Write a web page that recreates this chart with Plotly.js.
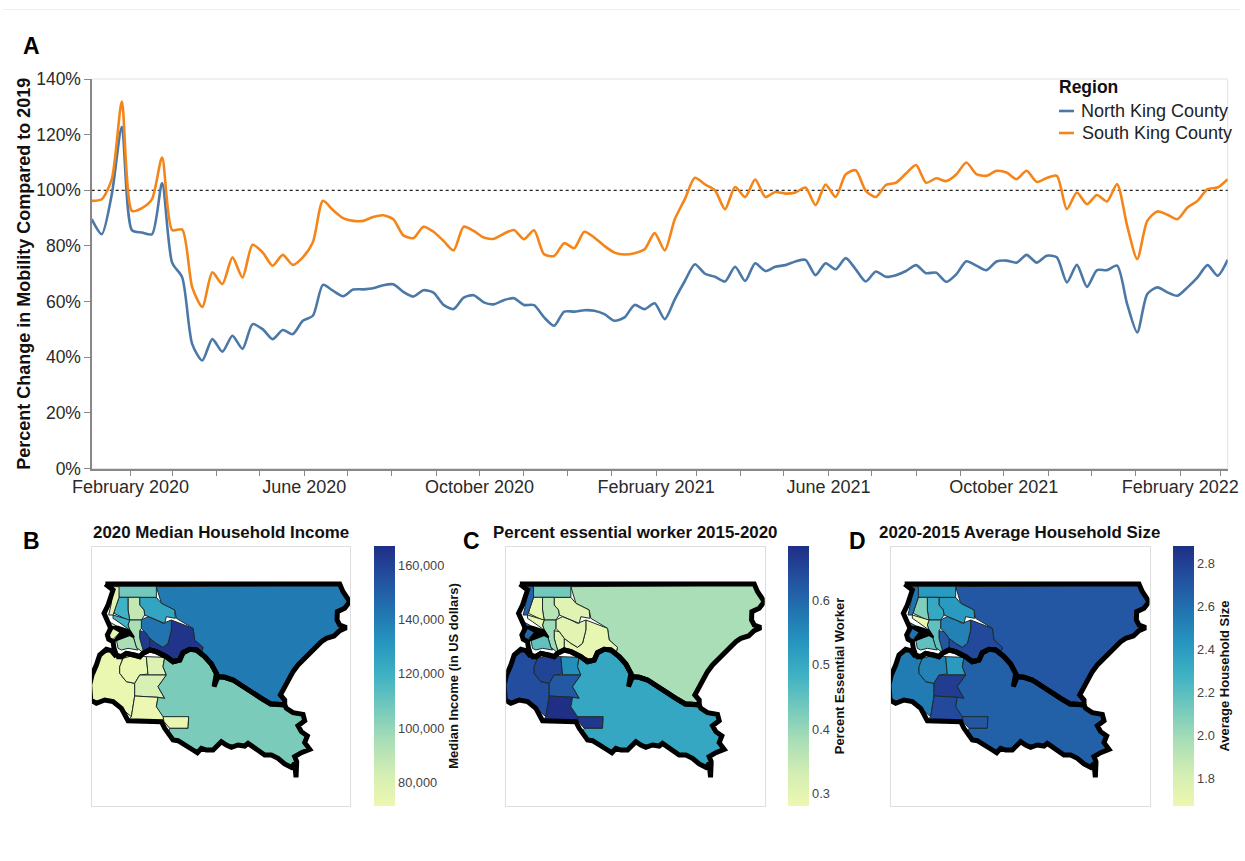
<!DOCTYPE html>
<html>
<head>
<meta charset="utf-8">
<script src="https://cdn.plot.ly/plotly-3.0.1.min.js"></script>
<style>html,body{margin:0;padding:0;background:#fff}</style>
</head>
<body>
<div id="chart" style="width:1245px;height:861px"></div>
<script>
// ---- Panel A data: weekly mobility, percent of 2019 ----
const firstWeek = '2020-01-05';
const northKing = [89.6,84.2,98.6,122.8,85.7,84.8,84.2,102.6,74,68.7,
  44.7,38.8,46.5,42,47.7,43,51.9,50.1,46.5,49.8,
  48.3,53.1,54.9,66,63.9,61.9,64.3,64.4,
  64.8,65.9,66.2,63.5,61.8,64.1,63.2,58.8,57.3,61.4,62.3,59.7,59,60.5,61.2,58.8,58.7,54.3,51.3,56.4,56.4,56.9,56.7,55.5,53.1,54.3,58.8,57.3,59.4,53.7,
  60.8,67.4,73.4,70,68.9,67.2,72.5,67.4,73.8,71,72.5,73.1,74.4,75,69.5,73.8,71.6,75.6,71.6,67.2,70.8,68.9,69.5,71,73.1,70.2,70.4,67.1,69.8,
  74.5,72.9,71.3,74.4,74.7,74,76.8,74,76.5,75.9,66.9,73.2,65.3,71.3,71.3,72.9,59.1,48.9,62.7,65.1,63.3,62.1,65.1,68.7,73.1,69.3,75];
const southKing = [96.2,96.8,104,131.9,92.6,93.6,96.8,111.8,85.7,85.9,
  65.1,58.1,70.5,66.3,75.9,68.7,80.4,77.7,72.9,76.8,
  73.2,75.9,81.3,96.2,92.9,90,89,89,
  90.4,91,89.6,83.8,82.8,86.9,85.1,81.8,78.4,86.9,85.4,83,82.6,84.4,85.7,82.4,85.6,77,76.4,81,79.2,85.1,83,80,77.6,76.9,77.4,78.8,84.6,78.4,
  89.6,96.8,104.5,102.1,100,93.2,101.2,97.6,103.9,97.6,99.4,98.8,99.2,101,94.7,102.1,97.6,105.7,107.2,99.8,97.6,101.9,102.7,106,109.1,102.7,104.3,103.3,105.7,
  110,105.8,105.2,107,106.4,104,107,103,104.4,105.2,93.2,99.2,95,98.3,96,102.2,87.2,75.3,89,92.4,91.2,89.6,93.8,96.2,100.4,101,104];
const monthTicks = ['2020-02-01','2020-03-01','2020-04-01','2020-05-01','2020-06-01','2020-07-01','2020-08-01','2020-09-01','2020-10-01','2020-11-01','2020-12-01','2021-01-01','2021-02-01','2021-03-01','2021-04-01','2021-05-01','2021-06-01','2021-07-01','2021-08-01','2021-09-01','2021-10-01','2021-11-01','2021-12-01','2022-01-01','2022-02-01','2022-03-01'];
const monthLabels = ['February 2020','','','','June 2020','','','','October 2020','','','','February 2021','','','','June 2021','','','','October 2021','','','','February 2022',''];
const percentTicks = [0,20,40,60,80,100,120,140];
const percentLabels = ['0%','20%','40%','60%','80%','100%','120%','140%'];
const legendTitle = 'Region';
const seriesNames = ['North King County','South King County'];
const seriesColors = ['#4c78a8','#f58518'];

// ---- Panels B, C, D data: one value per region ----
const regionNames = ['NE rural','Sammamish','Bellevue','Mercer','Kirkland','North band','North centre','Central','North Seattle','Ship Canal','West strip','Downtown','Southeast Seattle','Southwest','Tukwila','Renton','Kent','Auburn','Enumclaw','SE rural'];
const medianIncome  = [141000,165000,143000,163000,125000,108000,88000,95000,119000,119000,76000,76000,95000,73000,73000,79000,81000,72000,73000,106000];
const essentialShare = [0.382,0.293,0.301,0.313,0.305,0.434,0.362,0.39,0.293,0.293,0.61,0.603,0.45,0.636,0.652,0.543,0.623,0.684,0.672,0.503];
const householdSize = [2.70,2.76,2.52,2.70,2.40,2.40,2.33,2.18,2.09,1.68,2.58,2.58,2.18,2.54,2.52,2.40,2.82,2.76,2.70,2.66];

// Region outlines, in map units
const regionShapes = [
 [[215,80],[765,75],[775,95],[795,125],[780,145],[758,155],[757,180],[765,195],[785,203],[765,212],[748,228],[725,235],[710,245],[695,260],[680,272],[665,292],[640,315],[625,335],[615,355],[600,380],[587,405],[598,422],[598,433],[575,432],[558,432],[530,415],[500,395],[465,375],[445,360],[420,352],[400,350],[395,340],[380,312],[360,290],[350,280],[355,262],[330,240],[325,205],[275,175],[270,150],[230,130]],
 [[260,180],[325,205],[330,240],[355,262],[350,282],[320,265],[295,275],[280,300],[245,288],[205,272],[195,268],[195,235],[215,250],[235,262],[250,250],[260,210]],
 [[170,180],[190,170],[215,180],[235,190],[260,180],[260,210],[250,250],[235,262],[215,250],[195,235],[180,215],[170,205]],
 [[165,212],[180,215],[195,235],[195,268],[178,275],[170,255],[165,235]],
 [[165,112],[215,112],[230,130],[270,150],[272,175],[245,170],[240,190],[215,180],[190,170],[180,165],[178,150],[165,135]],
 [[100,78],[215,78],[215,112],[165,112],[135,112],[103,112]],
 [[130,112],[165,112],[165,135],[178,150],[180,165],[170,180],[135,180],[130,150]],
 [[135,180],[170,180],[170,205],[165,212],[165,235],[170,255],[178,280],[155,262],[145,228],[135,210],[130,195]],
 [[103,112],[130,112],[130,150],[135,180],[125,178],[88,160],[90,150]],
 [[85,165],[125,178],[135,180],[130,195],[135,210],[100,185],[85,175]],
 [[85,80],[103,80],[103,112],[90,150],[85,165],[72,165],[80,130]],
 [[72,185],[100,200],[108,216],[85,238],[70,235]],
 [[95,238],[110,235],[135,225],[145,228],[155,262],[160,270],[130,265],[110,270],[100,265]],
 [[45,285],[80,272],[95,290],[115,295],[105,320],[105,340],[125,365],[150,370],[150,408],[140,470],[110,445],[85,425],[60,420],[35,430],[18,420],[15,375],[22,345],[35,315]],
 [[115,295],[150,285],[185,290],[187,320],[190,342],[165,345],[150,370],[125,365],[105,340],[105,320]],
 [[185,290],[240,292],[235,320],[245,345],[190,345],[187,320]],
 [[165,345],[190,345],[245,345],[220,380],[240,415],[220,412],[150,408],[150,370]],
 [[150,408],[220,412],[215,440],[235,465],[240,482],[130,482],[140,470]],
 [[235,470],[300,465],[312,470],[310,505],[255,505],[238,485]],
 [[240,292],[285,302],[295,278],[315,268],[335,270],[360,290],[380,312],[395,340],[388,380],[400,350],[420,352],[445,360],[465,375],[500,395],[530,415],[558,432],[575,432],[600,435],[605,445],[625,458],[655,463],[660,482],[640,497],[650,515],[668,528],[660,548],[675,568],[650,578],[630,590],[636,605],[620,622],[600,612],[580,595],[560,585],[540,585],[520,572],[505,560],[490,550],[480,558],[460,555],[440,562],[425,555],[410,545],[400,555],[385,570],[365,570],[350,565],[338,578],[325,570],[310,560],[295,550],[280,542],[265,540],[250,520],[255,505],[310,505],[312,470],[235,470],[215,440],[220,412],[240,415],[220,380],[245,345],[235,320]]
];
const waterShape = [[78,200],[100,200],[135,212],[148,232],[135,225],[110,235],[88,243],[108,216]];
const northOutline = [[62,72],[400,73],[590,71],[765,72],[775,95],[795,125],[780,145],[758,155],[757,180],[765,195],[785,203],[765,212],[748,228],[725,235],[710,245],[695,260],[680,272],[665,292],[640,315],[625,335],[615,355],[600,380],[587,405],[600,420],[600,435],[575,432],[558,432],[530,415],[500,395],[465,375],[445,360],[420,352],[400,350],[395,340],[380,312],[360,290],[335,270],[315,268],[295,278],[285,300],[265,305],[245,290],[215,275],[195,270],[175,280],[165,290],[150,285],[125,280],[110,290],[95,285],[88,265],[85,245],[72,238],[68,225],[78,205],[62,175],[58,160],[70,135],[85,90],[62,72]];
const southOutline = [[95,290],[80,272],[65,268],[45,285],[35,315],[22,345],[15,375],[18,420],[35,430],[60,420],[85,425],[110,445],[130,482],[230,485],[240,505],[250,520],[265,540],[280,542],[295,550],[310,560],[325,570],[338,578],[350,565],[365,570],[385,570],[400,555],[410,545],[425,555],[440,562],[460,555],[480,558],[490,550],[505,560],[520,572],[540,585],[560,585],[580,595],[600,612],[620,622],[630,610],[634,652],[636,605],[630,590],[650,578],[675,568],[660,548],[668,528],[650,515],[640,497],[660,482],[655,463],[625,458],[605,445],[600,435],[575,432],[558,432],[530,415],[500,395],[465,375],[445,360],[420,352],[400,350],[388,380],[395,340],[380,312],[360,290],[335,270],[315,268],[295,278],[285,300],[265,305],[245,290],[215,275],[195,270],[175,280],[165,290],[150,285],[125,280],[110,290],[95,290]];

const colorStops = [[0,'#edf8b1'],[0.125,'#d3eeb3'],[0.25,'#a9deb6'],[0.375,'#75c9bc'],[0.5,'#3fb2c4'],[0.625,'#2696bf'],[0.75,'#2174b0'],[0.875,'#2350a0'],[1,'#1f2f86']];

function hexRgb(h){return [1,3,5].map(i=>parseInt(h.substr(i,2),16));}
function colorAt(t){
  t=Math.max(0,Math.min(1,t));
  for(let i=1;i<colorStops.length;i++){
    if(t<=colorStops[i][0]){
      const a=colorStops[i-1],b=colorStops[i],f=(t-a[0])/(b[0]-a[0]);
      const ca=hexRgb(a[1]),cb=hexRgb(b[1]);
      return 'rgb('+ca.map((c,k)=>Math.round(c+(cb[k]-c)*f)).join(',')+')';
    }
  }
  return colorStops[colorStops.length-1][1];
}

const W=1245,H=861;
const xf=p=>p/W, yf=p=>1-p/H;
const font='"Liberation Sans", Arial, sans-serif';

const weeks=northKing.map((_,i)=>{const d=new Date(firstWeek+'T00:00:00Z');d.setUTCDate(d.getUTCDate()+7*i);return d.toISOString().slice(0,10);});

const traces=[
 {type:'scatter',mode:'lines',name:seriesNames[0],x:weeks,y:northKing,showlegend:false,line:{color:seriesColors[0],width:2.6,shape:'spline',smoothing:0.7},hoverinfo:'x+y+name'},
 {type:'scatter',mode:'lines',name:seriesNames[1],x:weeks,y:southKing,showlegend:false,line:{color:seriesColors[1],width:2.6,shape:'spline',smoothing:0.7},hoverinfo:'x+y+name'}
];

const panels=[
 {ax:'2',values:medianIncome,cmin:71500,cmax:167000,left:91.7,barX:374,title:'Median Income (in US dollars)',tick:{tickvals:[80000,100000,120000,140000,160000],ticktext:['80,000','100,000','120,000','140,000','160,000']}},
 {ax:'3',values:essentialShare,cmin:0.281,cmax:0.684,left:506.2,barX:788.3,title:'Percent Essential Worker',tick:{tickvals:[0.3,0.4,0.5,0.6],ticktext:['0.3','0.4','0.5','0.6']}},
 {ax:'4',values:householdSize,cmin:1.67,cmax:2.88,left:891,barX:1172.7,title:'Average Household Size',tick:{tickvals:[1.8,2.0,2.2,2.4,2.6,2.8],ticktext:['1.8','2.0','2.2','2.4','2.6','2.8']}}
];

const layout={
  width:W,height:H,margin:{l:0,r:0,t:0,b:0},paper_bgcolor:'#fff',plot_bgcolor:'rgba(0,0,0,0)',
  font:{family:font,color:'#333'},hovermode:'closest',showlegend:false,
  xaxis:{domain:[xf(91.7),xf(1227.7)],range:['2020-01-05','2022-03-06'],type:'date',tickmode:'array',tickvals:monthTicks,ticktext:monthLabels,tickangle:0,
    ticks:'outside',ticklen:5.5,tickwidth:1,tickcolor:'#888',showline:true,linecolor:'#888',linewidth:1.5,showgrid:false,zeroline:false,ticklabelstandoff:-4,tickfont:{size:18,color:'#2a2a2a',family:font}},
  yaxis:{domain:[yf(468.5),yf(79)],range:[0,140],tickmode:'array',tickvals:percentTicks,ticktext:percentLabels,ticks:'outside',ticklen:5.5,tickwidth:1,tickcolor:'#888',showline:true,linecolor:'#888',linewidth:1.5,showgrid:false,zeroline:false,
    tickfont:{size:17.5,color:'#2a2a2a',family:font},title:{text:'<b>Percent Change in Mobility Compared to 2019</b>',font:{size:18,color:'#111',family:font}}},
  shapes:[
    {type:'rect',xref:'x domain',yref:'y domain',x0:0,x1:1,y0:0,y1:1,line:{color:'#e2e2e2',width:1},layer:'below'},
    {type:'line',xref:'x domain',yref:'y',x0:0,x1:1,y0:100,y1:100,line:{color:'#222',width:1.2,dash:'dot'},layer:'below'},
    {type:'line',xref:'paper',yref:'paper',x0:xf(3),x1:xf(1240),y0:yf(9.5),y1:yf(9.5),line:{color:'#f0f0f0',width:1}},
    {type:'line',xref:'paper',yref:'paper',x0:xf(1059),x1:xf(1074),y0:yf(111),y1:yf(111),line:{color:seriesColors[0],width:2.6}},
    {type:'line',xref:'paper',yref:'paper',x0:xf(1059),x1:xf(1074),y0:yf(133),y1:yf(133),line:{color:seriesColors[1],width:2.6}}
  ],
  annotations:[
    {text:'<b>'+legendTitle+'</b>',xref:'paper',yref:'paper',x:xf(1056.5),y:yf(87),xanchor:'left',yanchor:'middle',showarrow:false,font:{size:17.5,color:'#111',family:font}},
    {text:seriesNames[0],xref:'paper',yref:'paper',x:xf(1079),y:yf(111),xanchor:'left',yanchor:'middle',showarrow:false,align:'left',font:{size:18,color:'#222',family:font}},
    {text:seriesNames[1],xref:'paper',yref:'paper',x:xf(1080),y:yf(133),xanchor:'left',yanchor:'middle',showarrow:false,align:'left',font:{size:18,color:'#222',family:font}}
  ]
};

function letter(t,x,y){layout.annotations.push({text:'<b>'+t+'</b>',xref:'paper',yref:'paper',x:xf(x),y:yf(y),xanchor:'center',yanchor:'middle',showarrow:false,font:{size:23,color:'#000',family:font}});}
letter('A',31,46);letter('B',31,541);letter('C',471,541);letter('D',857,541);

const mapTitles=['2020 Median Household Income','Percent essential worker 2015-2020','2020-2015 Average Household Size'];
const titleCentres=[221,635,1019];

panels.forEach((p,pi)=>{
  const xa='x'+p.ax,ya='y'+p.ax;
  const right=p.left+258.5;
  layout['xaxis'+p.ax]={domain:[xf(p.left),xf(right)],range:[21,796.5],anchor:ya,showline:true,mirror:true,linecolor:'#dedede',linewidth:1,showticklabels:false,ticks:'',showgrid:false,zeroline:false,fixedrange:true};
  layout['yaxis'+p.ax]={domain:[yf(806),yf(546.5)],range:[738,-40.5],anchor:xa,showline:true,mirror:true,linecolor:'#dedede',linewidth:1,showticklabels:false,ticks:'',showgrid:false,zeroline:false,fixedrange:true};
  regionShapes.forEach((poly,i)=>{
    const pts=poly.concat([poly[0]]);
    traces.push({type:'scatter',mode:'lines',x:pts.map(q=>q[0]),y:pts.map(q=>q[1]),xaxis:xa,yaxis:ya,fill:'toself',
      fillcolor:colorAt((p.values[i]-p.cmin)/(p.cmax-p.cmin)),line:{color:'#1c2b2b',width:1},showlegend:false,name:regionNames[i],text:String(p.values[i]),hoverinfo:'name+text'});
  });
  const wp=waterShape.concat([waterShape[0]]);
  traces.push({type:'scatter',mode:'lines',x:wp.map(q=>q[0]),y:wp.map(q=>q[1]),xaxis:xa,yaxis:ya,fill:'toself',fillcolor:'#000',line:{color:'#000',width:2},showlegend:false,hoverinfo:'skip'});
  [northOutline,southOutline].forEach(o=>{
    traces.push({type:'scatter',mode:'lines',x:o.map(q=>q[0]),y:o.map(q=>q[1]),xaxis:xa,yaxis:ya,line:{color:'#000',width:5},showlegend:false,hoverinfo:'skip'});
  });
  traces.push({type:'scatter',mode:'markers',x:regionShapes.map(s=>s[0][0]),y:regionShapes.map(s=>s[0][1]),xaxis:xa,yaxis:ya,showlegend:false,hoverinfo:'skip',
    marker:{size:1,opacity:0,color:p.values,cmin:p.cmin,cmax:p.cmax,colorscale:colorStops,showscale:true,
      colorbar:Object.assign({x:xf(p.barX),xanchor:'left',xpad:0,y:yf(546),yanchor:'top',ypad:0,len:259.7/H,lenmode:'fraction',thickness:20.5,thicknessmode:'pixels',outlinewidth:0,borderwidth:0,ticks:'',ticklabelposition:'outside',
        tickfont:{size:12.8,color:'#444',family:font},title:{text:'<b>'+p.title+'</b>',side:'right',font:{size:13,color:'#111',family:font}}},p.tick)}});
  layout.annotations.push({text:'<b>'+mapTitles[pi]+'</b>',xref:'paper',yref:'paper',x:xf(titleCentres[pi]),y:yf(532),xanchor:'center',yanchor:'middle',showarrow:false,font:{size:16.9,color:'#111',family:font}});
});

Plotly.newPlot('chart',traces,layout,{displayModeBar:false,responsive:false});
</script>
</body>
</html>
